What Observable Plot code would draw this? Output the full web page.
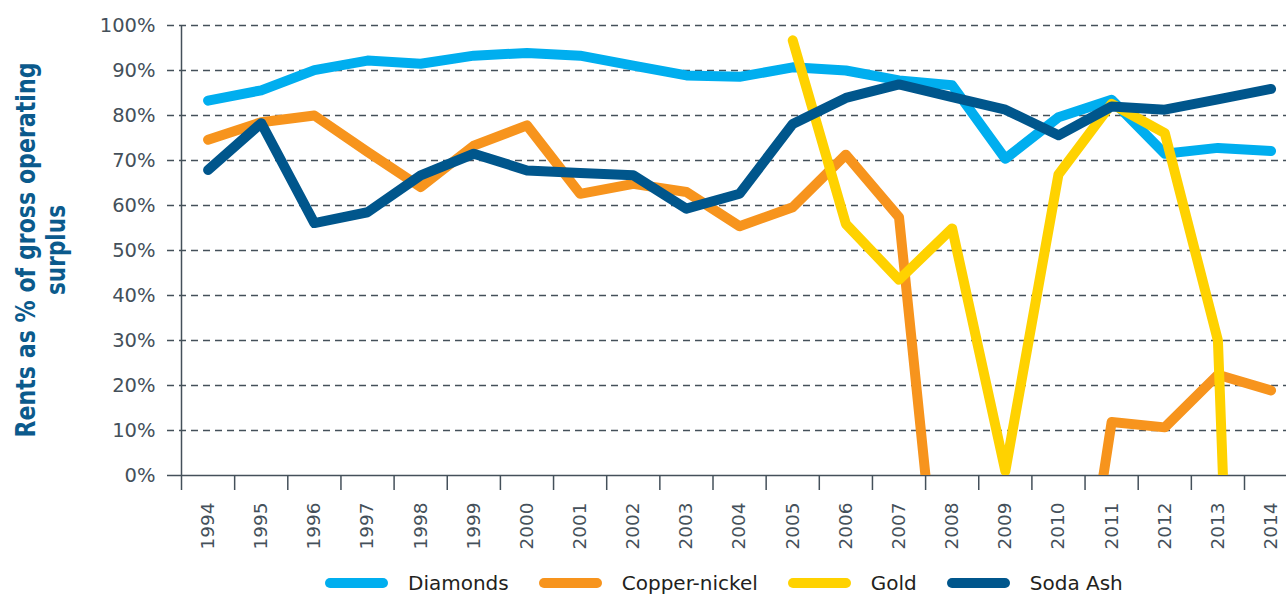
<!DOCTYPE html>
<html>
<head>
<meta charset="utf-8">
<script src="https://cdn.jsdelivr.net/npm/d3@7"></script>
<script src="https://cdn.jsdelivr.net/npm/@observablehq/plot@0.6"></script>
<style>
  html, body { margin: 0; padding: 0; background: #ffffff; overflow: hidden; }
  body { font-family: "DejaVu Sans", sans-serif; width: 1286px; height: 603px; }
  #chart svg { display: block; }
  #legend { position: relative; height: 43px; }
  #legend .row { position: absolute; left: 325px; top: 12px; display: flex; align-items: center; gap: 30px; }
  #legend .item { display: flex; align-items: center; gap: 20px; }
  #legend .sw { width: 63px; height: 10px; border-radius: 5px; }
  #legend .lab { font-size: 20px; color: #231f20; line-height: 22px; }
</style>
</head>
<body>
<div id="chart"></div>
<div id="legend"><div class="row"></div></div>
<script>
const years = [1994,1995,1996,1997,1998,1999,2000,2001,2002,2003,2004,2005,2006,2007,2008,2009,2010,2011,2012,2013,2014];
const diamonds     = [83.3,85.6,90.1,92.2,91.5,93.3,93.9,93.3,91.1,88.9,88.6,90.7,90.0,87.8,86.7,70.4,79.6,83.5,71.5,72.8,72.1];
const copperNickel = [74.6,78.5,80.0,71.9,64.1,73.3,77.8,62.6,64.8,63.0,55.4,59.6,71.3,57.4,-58,null,-65,11.9,10.7,22.4,18.9];
const gold         = [null,null,null,null,null,null,null,null,null,null,null,96.7,55.9,43.5,54.9,1.0,66.9,82.6,76.1,30.0,-289];
const sodaAsh      = [67.9,78.3,56.1,58.5,66.7,71.5,67.8,67.2,66.7,59.3,62.6,78.1,83.9,86.9,84.1,81.3,75.6,82.0,81.3,83.6,85.9];

const seriesNames = ["Diamonds", "Copper-nickel", "Gold", "Soda Ash"];
const seriesColors = ["#00aeef", "#f7941d", "#ffd200", "#00568c"];
const seriesValues = [diamonds, copperNickel, gold, sodaAsh];
const yTicks = [0,10,20,30,40,50,60,70,80,90,100];
const yTitleLines = ["Rents as % of gross operating", "surplus"];

const rows = [];
seriesNames.forEach((name, s) => {
  years.forEach((yr, i) => rows.push({series: name, year: yr, value: seriesValues[s][i]}));
});

const axisColor = "#44505a";
const boundaries = years.map(y => y - 0.5);

const chart = Plot.plot({
  width: 1286,
  height: 560,
  marginLeft: 181,
  marginRight: 0,
  marginTop: 25,
  marginBottom: 85,
  style: { fontFamily: "DejaVu Sans, sans-serif", background: "#ffffff" },
  x: { type: "linear", domain: [1993.5, 1993.5 + 1105 / 53.15] },
  y: { domain: [0, 100] },
  color: { domain: seriesNames, range: seriesColors },
  marks: [
    Plot.gridY(yTicks.filter(d => d > 0), { stroke: axisColor, strokeOpacity: 1, strokeWidth: 1.5, strokeDasharray: "7,5", insetLeft: -14 }),
    Plot.ruleY([0], { stroke: axisColor, strokeWidth: 1.5, insetLeft: -14 }),
    Plot.ruleX([1993.5], { stroke: axisColor, strokeWidth: 1.5 }),
    Plot.axisX(boundaries, { tickSize: 15, tickFormat: () => "", stroke: axisColor, strokeWidth: 1.5, label: null }),
    Plot.axisX(years, { tickSize: 0, tickPadding: 27, tickRotate: -90, tickFormat: d => String(d), fontSize: 18.5, fill: axisColor, label: null }),
    Plot.axisY(yTicks, { tickSize: 0, tickPadding: 26, tickFormat: d => d + "%", fontSize: 19.5, fill: axisColor, label: null }),
    Plot.line(rows, { x: "year", y: "value", z: "series", stroke: "series", strokeWidth: 10, strokeLinecap: "round", strokeLinejoin: "round", clip: true })
  ]
});
document.getElementById("chart").appendChild(chart);

// Y-axis title: two rotated lines, glyphs fitted to the reference's lengths
const title = d3.select(chart).append("text")
  .attr("transform", "translate(26,250) rotate(-90)")
  .attr("text-anchor", "middle")
  .attr("dominant-baseline", "central")
  .attr("fill", "#0b5a8c")
  .attr("font-family", "DejaVu Sans, sans-serif")
  .attr("font-weight", "bold")
  .attr("font-size", 26);
title.append("tspan").attr("x", 0).attr("y", 0)
  .attr("textLength", 375).attr("lengthAdjust", "spacingAndGlyphs")
  .text(yTitleLines[0]);
title.append("tspan").attr("x", 0).attr("y", 30)
  .attr("textLength", 90).attr("lengthAdjust", "spacingAndGlyphs")
  .text(yTitleLines[1]);

const row = document.querySelector("#legend .row");
seriesNames.forEach((name, i) => {
  const item = document.createElement("div");
  item.className = "item";
  const sw = document.createElement("div");
  sw.className = "sw";
  sw.style.background = seriesColors[i];
  const lab = document.createElement("span");
  lab.className = "lab";
  lab.textContent = name;
  item.appendChild(sw);
  item.appendChild(lab);
  row.appendChild(item);
});
</script>
</body>
</html>
